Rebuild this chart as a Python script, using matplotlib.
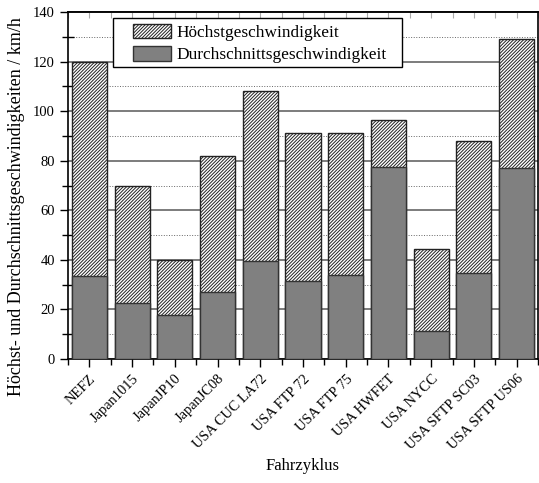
import numpy as np
import matplotlib.pyplot as plt
from matplotlib.patches import Patch, Rectangle
from matplotlib.ticker import MultipleLocator

plt.rcParams['font.family'] = ['Liberation Serif', 'DejaVu Serif']
plt.rcParams['hatch.linewidth'] = 0.7

zyklen = ["NEFZ", "Japan1015", "JapanJP10", "JapanJC08", "USA CUC LA72",
          "USA FTP 72", "USA FTP 75", "USA HWFET", "USA NYCC",
          "USA SFTP SC03", "USA SFTP US06"]
v_max = [120, 69.9, 40, 81.9, 108.1, 91.2, 91.2, 96.4, 44.4, 88.1, 129.1]
v_avg = [33.4, 22.6, 17.6, 26.9, 39.5, 31.5, 33.9, 77.6, 11.3, 34.7, 77.2]

fig = plt.figure(figsize=(5.39, 4.83), dpi=100)
ax = fig.add_axes([68/539, 1-359/483, 470/539, 347/483])

x = np.arange(len(zyklen))
schraffur = '/' * 10
ax.bar(x, v_max, width=0.82, color='white', edgecolor='#222222', hatch=schraffur,
       linewidth=1.0, zorder=3)
ax.bar(x, v_avg, width=0.82, color='#808080', edgecolor='#333333',
       linewidth=1.0, zorder=4)

ax.set_xlim(-0.5, 10.5)
ax.set_ylim(0, 140)
ax.yaxis.set_major_locator(MultipleLocator(20))
ax.yaxis.set_minor_locator(MultipleLocator(10))
ax.set_xticks(x)
ax.set_xticks(np.arange(-0.5, 11, 1.0), minor=True)
ax.set_xticklabels(zyklen, rotation=45, ha='right', rotation_mode='anchor', fontsize=10.4)
ax.tick_params(axis='y', labelsize=10.5)
ax.tick_params(which='both', direction='out', top=False, right=False)
ax.tick_params(which='major', length=6, width=1)
ax.tick_params(which='minor', length=4, width=1)
ax.tick_params(axis='y', which='minor', direction='inout', length=8)

# schwache Striche oben
oben = ax.secondary_xaxis('top')
oben.set_xticks(np.arange(-0.5, 11, 0.5))
oben.tick_params(direction='in', length=4, width=0.8, color='#aaaaaa', labeltop=False)

ax.grid(which='major', axis='y', color='#666666', linewidth=1.2, zorder=0)
ax.grid(which='minor', axis='y', color='#666666', linewidth=0.7, linestyle=':', zorder=0)
ax.set_axisbelow(True)
for s in ax.spines.values():
    s.set_linewidth(1.2)
oben.spines['top'].set_linewidth(1.2)

ax.set_xlabel("Fahrzyklus", fontsize=12)
ax.xaxis.set_label_coords(0.5, -0.285)
ax.set_ylabel("Höchst- und Durchschnittsgeschwindigkeiten / km/h", fontsize=13)
ax.yaxis.set_label_coords(-0.092, 0.438)

# Legendenrahmen
ax.add_patch(Rectangle((45/470, 292/347), 289/470, 49/347, transform=ax.transAxes,
                       facecolor='white', edgecolor='black', linewidth=1.0,
                       zorder=6, clip_on=False))
handles = [Patch(facecolor='white', edgecolor='#222222', hatch=schraffur),
           Patch(facecolor='#808080', edgecolor='#333333')]
leg = ax.legend(handles, ["Höchstgeschwindigkeit", "Durchschnittsgeschwindigkeit"],
                loc='upper left', bbox_to_anchor=(65/470, 335/347), fontsize=12.4,
                frameon=False, handlelength=2.2, handleheight=0.9,
                handletextpad=0.3, borderpad=0, borderaxespad=0, labelspacing=0.3)
leg.set_zorder(7)

fig.savefig("out.png", dpi=100)
